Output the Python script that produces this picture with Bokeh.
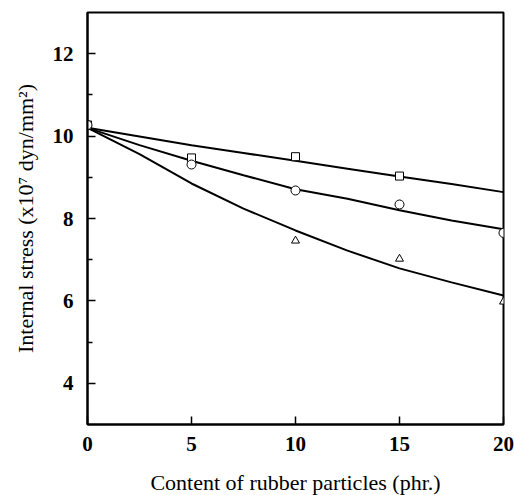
from bokeh.plotting import figure
from bokeh.models import FixedTicker, Range1d
from bokeh.embed import file_html
from bokeh.resources import INLINE

# Measured points
x_sq = [0, 5, 10, 15]
y_sq = [10.27, 9.47, 9.50, 9.03]
x_ci = [0, 5, 10, 15, 20]
y_ci = [10.27, 9.31, 8.68, 8.34, 7.65]
x_tr = [10, 15, 20]
y_tr = [7.46, 7.02, 5.98]

# Fitted curves
x_fit = [0, 2.5, 5, 7.5, 10, 12.5, 15, 17.5, 20]
y_fit_top = [10.20, 9.99, 9.78, 9.59, 9.40, 9.21, 9.02, 8.84, 8.64]
y_fit_mid = [10.20, 9.78, 9.40, 9.05, 8.71, 8.48, 8.20, 7.95, 7.74]
y_fit_low = [10.20, 9.56, 8.85, 8.24, 7.71, 7.22, 6.79, 6.45, 6.13]

x_ticks = [0, 5, 10, 15, 20]
y_ticks = [4, 6, 8, 10, 12]
y_minor = [5, 7, 9, 11]

FONT = "Liberation Serif"

p = figure(width=514, height=495, output_backend="svg", toolbar_location=None,
           x_range=Range1d(0, 20), y_range=Range1d(3, 13),
           min_border_left=87, min_border_right=11, min_border_top=12, min_border_bottom=71)
p.frame_width = 416
p.frame_height = 412
p.grid.visible = False
p.outline_line_color = "black"
p.outline_line_width = 2
p.background_fill_color = "white"
p.border_fill_color = "white"

for ax in (p.xaxis[0], p.yaxis[0]):
    ax.axis_line_width = 2
    ax.axis_line_color = "black"
    ax.major_tick_in = 8
    ax.major_tick_out = 0
    ax.minor_tick_in = 5
    ax.minor_tick_out = 0
    ax.major_tick_line_width = 1.5
    ax.minor_tick_line_width = 1.5
    ax.major_label_text_font = FONT
    ax.major_label_text_font_size = "21px"
    ax.major_label_text_font_style = "bold"
    ax.major_label_text_color = "black"
    ax.axis_label_text_font = FONT
    ax.axis_label_text_font_style = "normal"
    ax.axis_label_text_font_size = "22px"
    ax.axis_label_text_color = "black"

p.xaxis.ticker = FixedTicker(ticks=x_ticks, minor_ticks=[])
p.yaxis.ticker = FixedTicker(ticks=y_ticks, minor_ticks=y_minor)
p.xaxis.major_label_standoff = 12
p.yaxis.major_label_standoff = 14
p.xaxis.axis_label = "Content of rubber particles (phr.)"
p.yaxis.axis_label = "Internal stress (x10\u2077 dyn/mm\u00b2)"
p.xaxis.axis_label_standoff = 16
p.yaxis.axis_label_standoff = 12

for yy in (y_fit_top, y_fit_mid, y_fit_low):
    p.line(x_fit, yy, line_color="black", line_width=2)

p.scatter(x_sq, y_sq, marker="square", size=8, fill_color="white", line_color="black", line_width=1)
p.scatter(x_ci, y_ci, marker="circle", size=9, fill_color="white", line_color="black", line_width=1)
p.scatter(x_tr, y_tr, marker="triangle", size=8, fill_color="white", line_color="black", line_width=1)

open("out.html", "w").write(file_html(p, INLINE))
